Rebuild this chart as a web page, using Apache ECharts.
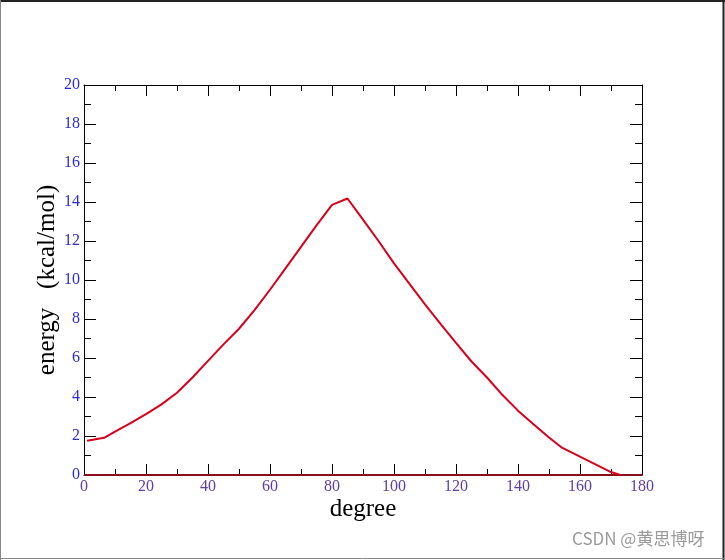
<!DOCTYPE html>
<html>
<head>
<meta charset="utf-8">
<script src="https://cdn.jsdelivr.net/npm/echarts@6/dist/echarts.min.js"></script>
<style>
html,body{margin:0;padding:0;background:#fff;}
#c{width:725px;height:560px;}
</style>
</head>
<body>
<div id="c"></div>
<script>
// Data
var degrees = [1, 6.5, 10, 15, 20, 25, 30, 35, 40, 45, 50, 55, 60, 65, 70, 75, 80, 85, 90, 95, 100, 105, 110, 115, 120, 125, 130, 135, 140, 145, 150, 154, 160, 165, 170, 173];
var energy  = [1.76, 1.91, 2.22, 2.66, 3.12, 3.62, 4.22, 5.0, 5.85, 6.7, 7.5, 8.45, 9.5, 10.6, 11.7, 12.8, 13.85, 14.18, 13.1, 12.0, 10.85, 9.8, 8.75, 7.75, 6.78, 5.82, 5.0, 4.1, 3.3, 2.6, 1.92, 1.42, 0.94, 0.55, 0.15, 0.0];
var zeroX = [0, 180];
var zeroY = [0, 0];
var xTicks = [0, 20, 40, 60, 80, 100, 120, 140, 160, 180];
var yTicks = [0, 2, 4, 6, 8, 10, 12, 14, 16, 18, 20];

var curve = degrees.map(function (d, i) { return [d, energy[i]]; });
var zeroLine = zeroX.map(function (d, i) { return [d, zeroY[i]]; });

var chart = echarts.init(document.getElementById('c'), null, {renderer: 'canvas'});
var serif = 'Liberation Serif, Times New Roman, serif';
function baseTick(len) { return {show: true, inside: true, length: len, lineStyle: {color: '#000', width: 1}}; }
var option = {
  backgroundColor: '#fff',
  animation: false,
  grid: {left: 84, right: 83, top: 85, bottom: 85, containLabel: false},
  xAxis: [{
    type: 'value', min: xTicks[0], max: xTicks[xTicks.length - 1], interval: 20,
    position: 'bottom',
    name: 'degree', nameLocation: 'middle', nameGap: 22, nameMoveOverlap: false,
    nameTextStyle: {fontFamily: serif, fontSize: 25, color: '#000'},
    axisLine: {show: true, onZero: false, lineStyle: {color: '#000', width: 1}},
    axisTick: baseTick(11),
    minorTick: {show: true, splitNumber: 2, length: 6, lineStyle: {color: '#000', width: 1}},
    splitLine: {show: false},
    axisLabel: {fontFamily: serif, fontSize: 16, color: '#5e3ea6', margin: 4}
  }, {
    type: 'value', min: xTicks[0], max: xTicks[xTicks.length - 1], interval: 20,
    position: 'top',
    axisLine: {show: true, onZero: false, lineStyle: {color: '#000', width: 1}},
    axisTick: baseTick(11),
    minorTick: {show: true, splitNumber: 2, length: 6, lineStyle: {color: '#000', width: 1}},
    splitLine: {show: false},
    axisLabel: {show: false}
  }],
  yAxis: [{
    type: 'value', min: yTicks[0], max: yTicks[yTicks.length - 1], interval: 2,
    position: 'left',
    name: 'energy   (kcal/mol)', nameLocation: 'middle', nameGap: 24, nameMoveOverlap: false,
    nameTextStyle: {fontFamily: serif, fontSize: 25, color: '#000'},
    axisLine: {show: true, onZero: false, lineStyle: {color: '#000', width: 1}},
    axisTick: baseTick(12),
    minorTick: {show: true, splitNumber: 2, length: 7, lineStyle: {color: '#000', width: 1}},
    splitLine: {show: false},
    axisLabel: {fontFamily: serif, fontSize: 16, color: '#2a2ad8', margin: 4}
  }, {
    type: 'value', min: yTicks[0], max: yTicks[yTicks.length - 1], interval: 2,
    position: 'right',
    axisLine: {show: true, onZero: false, lineStyle: {color: '#000', width: 1}},
    axisTick: baseTick(12),
    minorTick: {show: true, splitNumber: 2, length: 7, lineStyle: {color: '#000', width: 1}},
    splitLine: {show: false},
    axisLabel: {show: false}
  }],
  series: [{
    type: 'line', data: zeroLine, xAxisIndex: 0, yAxisIndex: 0,
    showSymbol: false, symbol: 'none',
    lineStyle: {color: '#8a0f1a', width: 2}, z: 3
  }, {
    type: 'line', data: curve, xAxisIndex: 0, yAxisIndex: 0,
    showSymbol: false, symbol: 'none',
    lineStyle: {color: '#d8001c', width: 2}, z: 4
  }],
  graphic: [
    {type: 'line', shape: {x1: 0, y1: 1, x2: 725, y2: 1}, style: {stroke: '#222', lineWidth: 2}},
    {type: 'line', shape: {x1: 0.5, y1: 0, x2: 0.5, y2: 560}, style: {stroke: '#888', lineWidth: 1}},
    {type: 'line', shape: {x1: 723.5, y1: 0, x2: 723.5, y2: 560}, style: {stroke: '#222', lineWidth: 2}},
    {type: 'line', shape: {x1: 0, y1: 558.5, x2: 725, y2: 558.5}, style: {stroke: '#888', lineWidth: 1}},
    {type: 'text', left: 572, top: 530, style: {text: 'CSDN @黄思博呀', fill: '#9a9a9a', fontSize: 17, fontFamily: 'Noto Sans CJK SC, Noto Sans, sans-serif'}}
  ]
};
chart.setOption(option);
</script>
</body>
</html>
